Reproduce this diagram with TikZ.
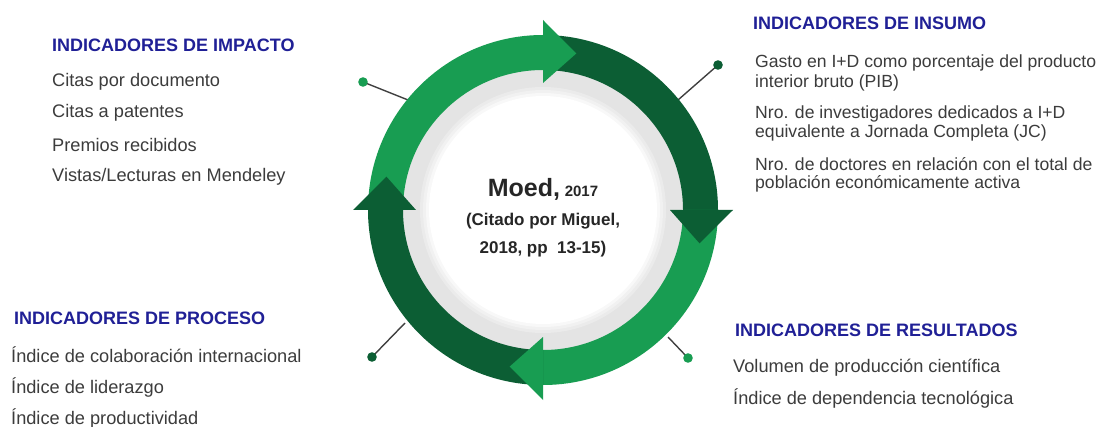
\documentclass[tikz,border=0pt]{standalone}
\usepackage{fontspec}
\setmainfont{Liberation Sans}
\definecolor{lightgreen}{RGB}{24,157,82}
\definecolor{darkgreen}{RGB}{12,94,52}
\definecolor{titleblue}{RGB}{32,32,150}
\definecolor{bodygray}{RGB}{60,60,60}
\definecolor{ringgray}{RGB}{228,228,228}
\tikzset{
  ttl/.style={anchor=west, inner sep=0pt, text=titleblue, font=\fontsize{18}{21}\selectfont\bfseries},
  txt/.style={anchor=west, inner sep=0pt, text=bodygray, font=\fontsize{18.2}{21}\selectfont},
  txtnarrow/.style={txt, font=\fontsize{17.6}{21}\selectfont},
  ctr/.style={anchor=base, inner sep=0pt, text=black!85, font=\fontsize{17}{20}\selectfont\bfseries},
  leader/.style={draw=black!75, line width=1.4pt},
  dotlight/.style={fill=lightgreen},
  dotdark/.style={fill=darkgreen}
}
\begin{document}
\begin{tikzpicture}[x=1pt, y=1pt]
\useasboundingbox (0,0) rectangle (1105,426);
\fill[white] (0,0) rectangle (1105,426);

% leader lines with end dots
\coordinate (tlr) at (408,326);  \coordinate (tld) at (363,344);
\coordinate (trr) at (678,326);  \coordinate (trd) at (718,361);
\coordinate (brr) at (668,89);   \coordinate (brd) at (688,68);
\coordinate (blr) at (405,103);  \coordinate (bld) at (372,69);
\draw[leader] (tlr) -- (tld);
\draw[leader] (trr) -- (trd);
\draw[leader] (brr) -- (brd);
\draw[leader] (blr) -- (bld);
\fill[dotlight] (tld) circle (4.8);
\fill[dotdark]  (trd) circle (4.8);
\fill[dotlight] (brd) circle (4.8);
\fill[dotdark]  (bld) circle (4.8);

\begin{scope}[shift={(543,216)}]
  % grey disc with soft white centre
  \fill[ringgray] (0,0) circle (142);
  \fill[ringgray!75] (0,0) circle (123);
  \fill[ringgray!50] (0,0) circle (120);
  \fill[ringgray!25] (0,0) circle (117);
  \fill[white] (0,0) circle (114);

  % ring segments
  \fill[lightgreen] (180:175) arc[start angle=180, end angle=90, radius=175]
      -- (90:140) arc[start angle=90, end angle=180, radius=140] -- cycle;
  \fill[darkgreen] (90:175) arc[start angle=90, end angle=0, radius=175]
      -- (0:140) arc[start angle=0, end angle=90, radius=140] -- cycle;
  \fill[lightgreen] (0:175) arc[start angle=0, end angle=-90, radius=175]
      -- (-90:140) arc[start angle=-90, end angle=0, radius=140] -- cycle;
  \fill[darkgreen] (-90:175) arc[start angle=-90, end angle=-180, radius=175]
      -- (-180:140) arc[start angle=-180, end angle=-90, radius=140] -- cycle;

  % arrow heads
  \fill[lightgreen] (90:127) -- (90:190) -- (78:160) -- cycle;
  \fill[darkgreen] (0:127) -- (0:190) -- (-12:160) -- cycle;
  \fill[lightgreen] (-90:127) -- (-90:190) -- (-102:160) -- cycle;
  \fill[darkgreen] (180:127) -- (180:190) -- (168:160) -- cycle;
\end{scope}

% centre text
\node[ctr] (c1) at (543,229) {{\fontsize{25}{28}\selectfont Moed,} {\fontsize{15}{18}\selectfont 2017}};
\node[ctr] (c2) at (543,200) {(Citado por Miguel,};
\node[ctr] (c3) at (543,172) {2018, pp\ \ 13-15)};

% impact indicators
\node[ttl] (imp) at (52,381) {INDICADORES DE IMPACTO};
\node[txt] (imp1) at (52,344) {Citas por documento};
\node[txt] (imp2) at (52,313) {Citas a patentes};
\node[txt] (imp3) at (52,281) {Premios recibidos};
\node[txt] (imp4) at (52,249) {Vistas/Lecturas en Mendeley};

% input indicators
\node[ttl] (ins) at (753,403) {INDICADORES DE INSUMO};
\node[txtnarrow] (ins1) at (755,363) {Gasto en I+D como porcentaje del producto};
\node[txtnarrow] (ins2) at (755,343) {interior bruto (PIB)};
\node[txtnarrow] (ins3) at (755,312) {Nro. de investigadores dedicados a I+D};
\node[txtnarrow] (ins4) at (755,293) {equivalente a Jornada Completa (JC)};
\node[txtnarrow] (ins5) at (755,262) {Nro. de doctores en relación con el total de};
\node[txtnarrow] (ins6) at (755,242) {población económicamente activa};

% process indicators
\node[ttl] (pro) at (14,108) {INDICADORES DE PROCESO};
\node[txt] (pro1) at (11,71) {Índice de colaboración internacional};
\node[txt] (pro2) at (11,39) {Índice de liderazgo};
\node[txt] (pro3) at (11,8) {Índice de productividad};

% output indicators
\node[ttl] (res) at (735,96) {INDICADORES DE RESULTADOS};
\node[txt] (res1) at (733,58) {Volumen de producción científica};
\node[txt] (res2) at (733,28) {Índice de dependencia tecnológica};
\end{tikzpicture}
\end{document}
